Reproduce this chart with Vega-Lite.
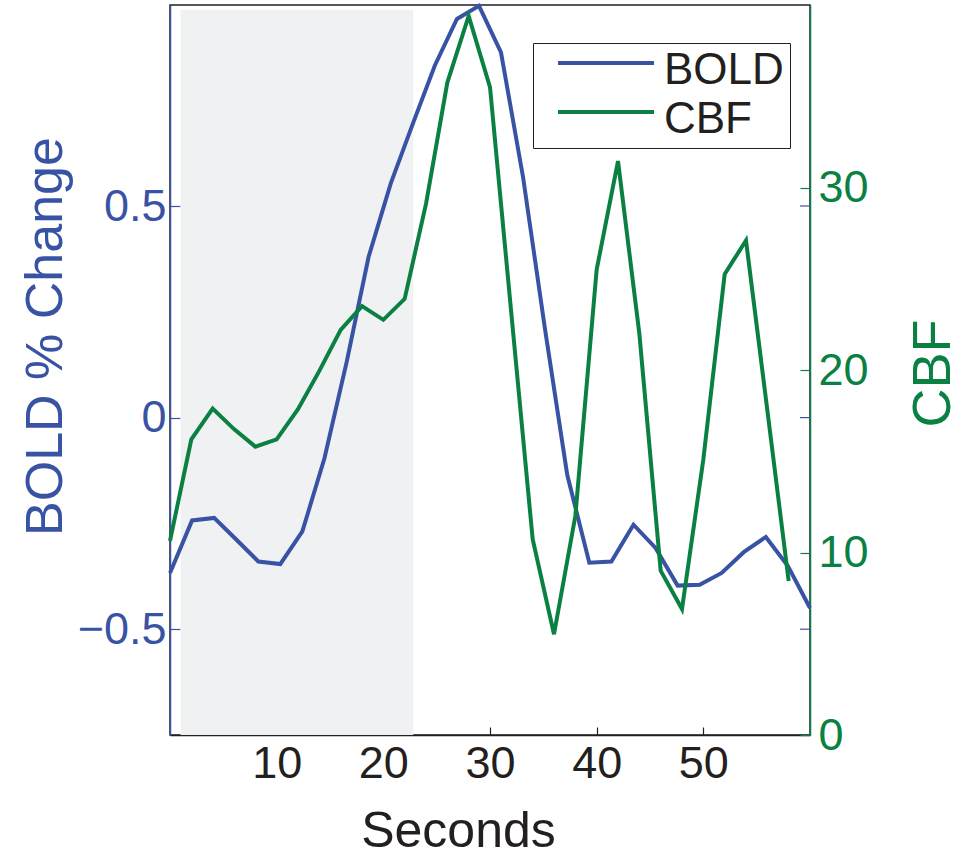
{
  "$schema": "https://vega.github.io/schema/vega-lite/v6.json",
  "width": 640,
  "height": 730,
  "autosize": {"type": "none"},
  "padding": {"left": 170, "top": 5, "right": 150, "bottom": 121},
  "background": "white",
  "config": {
    "view": {"stroke": "#231f20", "strokeWidth": 1.5},
    "font": "Liberation Sans",
    "axis": {"labelFont": "Liberation Sans", "titleFont": "Liberation Sans", "titleFontWeight": "normal", "grid": false, "labelFlush": false, "labelOverlap": false}
  },
  "datasets": {
    "series": [
      {"t": 0, "series": "BOLD", "v": -0.367},
      {"t": 2.07, "series": "BOLD", "v": -0.243},
      {"t": 4.14, "series": "BOLD", "v": -0.237},
      {"t": 6.21, "series": "BOLD", "v": -0.288},
      {"t": 8.28, "series": "BOLD", "v": -0.34},
      {"t": 10.34, "series": "BOLD", "v": -0.346},
      {"t": 12.41, "series": "BOLD", "v": -0.269},
      {"t": 14.48, "series": "BOLD", "v": -0.096},
      {"t": 16.55, "series": "BOLD", "v": 0.13},
      {"t": 18.62, "series": "BOLD", "v": 0.38},
      {"t": 20.69, "series": "BOLD", "v": 0.553},
      {"t": 22.76, "series": "BOLD", "v": 0.694},
      {"t": 24.83, "series": "BOLD", "v": 0.832},
      {"t": 26.9, "series": "BOLD", "v": 0.942},
      {"t": 28.97, "series": "BOLD", "v": 0.973},
      {"t": 31.03, "series": "BOLD", "v": 0.863},
      {"t": 33.1, "series": "BOLD", "v": 0.568},
      {"t": 35.17, "series": "BOLD", "v": 0.207},
      {"t": 37.24, "series": "BOLD", "v": -0.135},
      {"t": 39.31, "series": "BOLD", "v": -0.343},
      {"t": 41.38, "series": "BOLD", "v": -0.34},
      {"t": 43.45, "series": "BOLD", "v": -0.253},
      {"t": 45.52, "series": "BOLD", "v": -0.308},
      {"t": 47.59, "series": "BOLD", "v": -0.397},
      {"t": 49.66, "series": "BOLD", "v": -0.395},
      {"t": 51.72, "series": "BOLD", "v": -0.367},
      {"t": 53.79, "series": "BOLD", "v": -0.318},
      {"t": 55.86, "series": "BOLD", "v": -0.282},
      {"t": 57.93, "series": "BOLD", "v": -0.351},
      {"t": 60, "series": "BOLD", "v": -0.45},
      {"t": 0, "series": "CBF", "v": 10.64},
      {"t": 2, "series": "CBF", "v": 16.2},
      {"t": 4, "series": "CBF", "v": 17.89},
      {"t": 6, "series": "CBF", "v": 16.76},
      {"t": 8, "series": "CBF", "v": 15.8},
      {"t": 10, "series": "CBF", "v": 16.2},
      {"t": 12, "series": "CBF", "v": 17.85},
      {"t": 14, "series": "CBF", "v": 19.95},
      {"t": 16, "series": "CBF", "v": 22.2},
      {"t": 18, "series": "CBF", "v": 23.5},
      {"t": 20, "series": "CBF", "v": 22.75},
      {"t": 22, "series": "CBF", "v": 23.9},
      {"t": 24, "series": "CBF", "v": 29.1},
      {"t": 26, "series": "CBF", "v": 35.75},
      {"t": 28, "series": "CBF", "v": 39.4},
      {"t": 30, "series": "CBF", "v": 35.5},
      {"t": 32, "series": "CBF", "v": 23.1},
      {"t": 34, "series": "CBF", "v": 10.73},
      {"t": 36, "series": "CBF", "v": 5.52},
      {"t": 38, "series": "CBF", "v": 12.0},
      {"t": 40, "series": "CBF", "v": 25.5},
      {"t": 42, "series": "CBF", "v": 31.45},
      {"t": 44, "series": "CBF", "v": 22.0},
      {"t": 46, "series": "CBF", "v": 9.0},
      {"t": 48, "series": "CBF", "v": 6.9},
      {"t": 50, "series": "CBF", "v": 15.1},
      {"t": 52, "series": "CBF", "v": 25.25},
      {"t": 54, "series": "CBF", "v": 27.1},
      {"t": 56, "series": "CBF", "v": 17.8},
      {"t": 58, "series": "CBF", "v": 8.44}
    ],
    "block": [{"start": 1, "end": 22.8}],
    "ticks": [{"v": -0.5}, {"v": 0}, {"v": 0.5}]
  },
  "layer": [
    {
      "layer": [
        {
          "data": {"name": "block"},
          "mark": {"type": "rect", "color": "#f0f1f3"},
          "encoding": {
            "x": {"field": "start", "type": "quantitative", "scale": {"domain": [0, 60], "nice": false, "zero": false}},
            "x2": {"field": "end"},
            "y": {"datum": -0.75, "type": "quantitative", "scale": {"domain": [-0.75, 0.975], "nice": false, "zero": false}},
            "y2": {"datum": 0.964}
          }
        },
        {
          "data": {"name": "series"},
          "transform": [{"filter": "datum.series === 'BOLD'"}],
          "mark": {"type": "line", "strokeWidth": 4, "strokeCap": "butt"},
          "encoding": {
            "x": {
              "field": "t", "type": "quantitative",
              "scale": {"domain": [0, 60], "nice": false, "zero": false},
              "axis": {
                "values": [10, 20, 30, 40, 50], "title": "Seconds",
                "titleFontSize": 50, "titleColor": "#231f20", "titleX": 288, "titleY": 71,
                "labelFontSize": 45, "labelColor": "#231f20", "labelPadding": 14,
                "tickSize": -8, "tickColor": "#231f20", "tickWidth": 1.2,
                "domainColor": "#231f20", "domainWidth": 1.5
              }
            },
            "y": {
              "field": "v", "type": "quantitative",
              "scale": {"domain": [-0.75, 0.975], "nice": false, "zero": false},
              "axis": {
                "values": [-0.5, 0, 0.5], "format": "~g", "title": "BOLD % Change",
                "titleFontSize": 52, "titleColor": "#3953a4", "titleX": -98, "titleY": 331,
                "labelFontSize": 45, "labelColor": "#3953a4", "labelPadding": 14,
                "tickSize": -10, "tickColor": "#3953a4", "tickWidth": 1.2,
                "domainColor": "#3953a4", "domainWidth": 1.5
              }
            },
            "color": {
              "field": "series", "type": "nominal",
              "scale": {"domain": ["BOLD", "CBF"], "range": ["#3953a4", "#0b8043"]},
              "legend": {
                "orient": "none", "legendX": 363, "legendY": 38, "title": null,
                "strokeColor": "#231f20", "fillColor": "white", "padding": 6, "rowPadding": 5,
                "symbolType": "M0,-0.5H6", "symbolSize": 1024, "symbolStrokeWidth": 4, "symbolOffset": -3,
                "labelFontSize": 44, "labelFont": "Liberation Sans", "labelColor": "#231f20", "labelOffset": 84,
                "cornerRadius": 0
              }
            }
          }
        },
        {
          "data": {"name": "ticks"},
          "mark": {"type": "rule", "color": "#3953a4", "strokeWidth": 1.2},
          "encoding": {
            "x": {"datum": 59.06, "type": "quantitative"},
            "x2": {"datum": 60},
            "y": {"field": "v", "type": "quantitative"}
          }
        }
      ]
    },
    {
      "data": {"name": "series"},
      "transform": [{"filter": "datum.series === 'CBF'"}],
      "mark": {"type": "line", "strokeWidth": 4, "strokeCap": "butt"},
      "encoding": {
        "x": {"field": "t", "type": "quantitative", "scale": {"domain": [0, 60], "nice": false, "zero": false}},
        "y": {
          "field": "v", "type": "quantitative",
          "scale": {"domain": [0, 40], "nice": false, "zero": false},
          "axis": {
            "orient": "right", "values": [0, 10, 20, 30], "title": "CBF",
            "titleFontSize": 54, "titleColor": "#0b8043", "titleAngle": 270, "titleBaseline": "top", "titleX": 96, "titleY": 368,
            "labelFontSize": 45, "labelColor": "#0b8043", "labelPadding": 18,
            "tickSize": -10, "tickColor": "#0b8043", "tickWidth": 1.2,
            "domainColor": "#0b8043", "domainWidth": 1.5
          }
        },
        "color": {"field": "series", "type": "nominal"}
      }
    }
  ],
  "resolve": {"scale": {"y": "independent"}}
}
